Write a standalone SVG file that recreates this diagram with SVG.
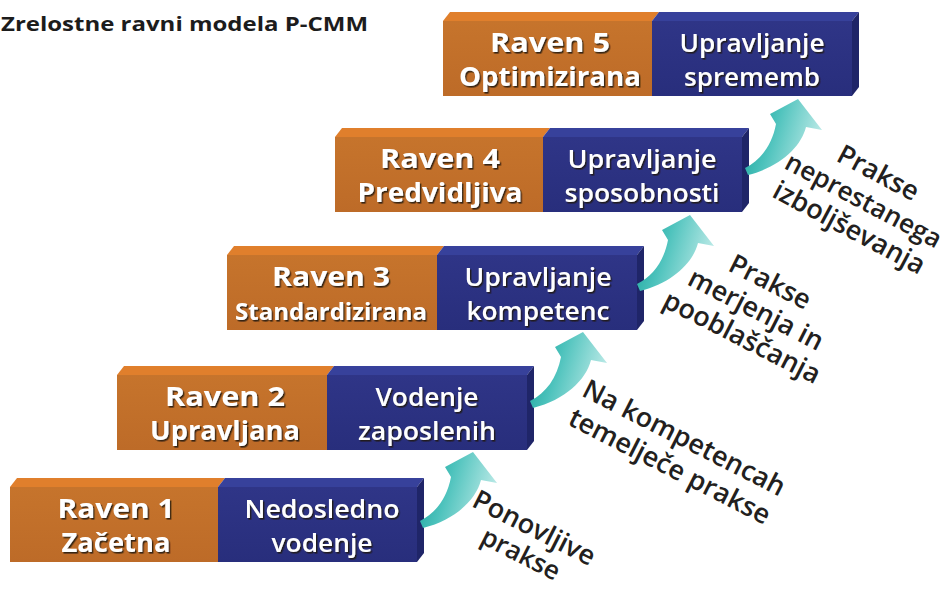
<svg xmlns="http://www.w3.org/2000/svg" width="949" height="591" viewBox="0 0 949 591">
<defs>
<linearGradient id="teal" x1="0" y1="0" x2="1" y2="0.3">
<stop offset="0" stop-color="#12a097"/>
<stop offset="0.45" stop-color="#4cc2bc"/>
<stop offset="1" stop-color="#b4e7e4"/>
</linearGradient>
<linearGradient id="orf" x1="0" y1="0" x2="0" y2="1">
<stop offset="0" stop-color="#c6742c"/>
<stop offset="1" stop-color="#bd6b28"/>
</linearGradient>
<linearGradient id="blf" x1="0" y1="0" x2="0" y2="1">
<stop offset="0" stop-color="#2f3587"/>
<stop offset="1" stop-color="#282e7c"/>
</linearGradient>
<filter id="sh" x="-10%" y="-30%" width="130%" height="170%">
<feDropShadow dx="1.4" dy="1.6" stdDeviation="0.6" flood-color="#1a1208" flood-opacity="0.85"/>
</filter>
</defs>
<style>
.ot{fill:#e07f2c}
.bt{fill:#37419b}
.sd{fill:#1f2568}
.of{fill:url(#orf)}
.bf{fill:url(#blf)}
.lo{font-family:"Open Sans","Noto Sans","Liberation Sans",sans-serif;font-weight:700;font-size:27px;fill:#ffffff;text-anchor:middle;filter:url(#sh)}
.lb{font-family:"Open Sans","Noto Sans","Liberation Sans",sans-serif;font-weight:600;font-size:26px;fill:#ffffff;text-anchor:middle;filter:url(#sh)}
.pr{font-family:"Open Sans","Noto Sans","Liberation Sans",sans-serif;font-weight:600;font-size:27px;fill:#231f20;text-anchor:middle}
.ti{font-family:"Open Sans","Noto Sans","Liberation Sans",sans-serif;font-weight:700;font-size:20px;fill:#1c1c1c}
.ar{fill:url(#teal)}
</style>
<rect width="949" height="591" fill="#ffffff"/>
<text class="ti" x="1" y="31" textLength="367" lengthAdjust="spacingAndGlyphs">Zrelostne ravni modela P-CMM</text>

<g id="level1">
<polygon class="ot" points="10,487 17,478 225,478 218,487"/>
<polygon class="bt" points="218,487 225,478 424,478 417,487"/>
<polygon class="sd" points="417,487 424,478 424,553 417,562"/>
<rect class="of" x="10" y="487" width="208" height="75"/>
<rect class="bf" x="218" y="487" width="199" height="75"/>
<text class="lo" x="116" y="518" textLength="117" lengthAdjust="spacingAndGlyphs">Raven 1</text>
<text class="lo" x="116" y="552" textLength="109" lengthAdjust="spacingAndGlyphs">Začetna</text>
<text class="lb" x="322" y="518" textLength="155" lengthAdjust="spacingAndGlyphs">Nedosledno</text>
<text class="lb" x="322" y="552" textLength="101" lengthAdjust="spacingAndGlyphs">vodenje</text>
</g>

<g id="level2">
<polygon class="ot" points="117,375 124,366 334,366 327,375"/>
<polygon class="bt" points="327,375 334,366 534,366 527,375"/>
<polygon class="sd" points="527,375 534,366 534,441 527,450"/>
<rect class="of" x="117" y="375" width="210" height="75"/>
<rect class="bf" x="327" y="375" width="200" height="75"/>
<text class="lo" x="225" y="406" textLength="120" lengthAdjust="spacingAndGlyphs">Raven 2</text>
<text class="lo" x="225" y="440" textLength="150" lengthAdjust="spacingAndGlyphs">Upravljana</text>
<text class="lb" x="427" y="406" textLength="103" lengthAdjust="spacingAndGlyphs">Vodenje</text>
<text class="lb" x="427" y="440" textLength="138" lengthAdjust="spacingAndGlyphs">zaposlenih</text>
</g>

<g id="level3">
<polygon class="ot" points="227,255 234,246 444,246 437,255"/>
<polygon class="bt" points="437,255 444,246 644,246 637,255"/>
<polygon class="sd" points="637,255 644,246 644,321 637,330"/>
<rect class="of" x="227" y="255" width="210" height="75"/>
<rect class="bf" x="437" y="255" width="200" height="75"/>
<text class="lo" x="331" y="286" textLength="118" lengthAdjust="spacingAndGlyphs">Raven 3</text>
<text class="lo" x="331" y="320" style="font-size:24px" textLength="192" lengthAdjust="spacingAndGlyphs">Standardizirana</text>
<text class="lb" x="538" y="286" textLength="147" lengthAdjust="spacingAndGlyphs">Upravljanje</text>
<text class="lb" x="538" y="320" textLength="143" lengthAdjust="spacingAndGlyphs">kompetenc</text>
</g>

<g id="level4">
<polygon class="ot" points="335,137 342,128 550,128 543,137"/>
<polygon class="bt" points="543,137 550,128 749,128 742,137"/>
<polygon class="sd" points="742,137 749,128 749,203 742,212"/>
<rect class="of" x="335" y="137" width="208" height="75"/>
<rect class="bf" x="543" y="137" width="199" height="75"/>
<text class="lo" x="440" y="168" textLength="120" lengthAdjust="spacingAndGlyphs">Raven 4</text>
<text class="lo" x="440" y="202" textLength="165" lengthAdjust="spacingAndGlyphs">Predvidljiva</text>
<text class="lb" x="642" y="168" textLength="149" lengthAdjust="spacingAndGlyphs">Upravljanje</text>
<text class="lb" x="642" y="202" textLength="155" lengthAdjust="spacingAndGlyphs">sposobnosti</text>
</g>

<g id="level5">
<polygon class="ot" points="443,21 450,12 659,12 652,21"/>
<polygon class="bt" points="652,21 659,12 859,12 852,21"/>
<polygon class="sd" points="852,21 859,12 859,87 852,96"/>
<rect class="of" x="443" y="21" width="209" height="75"/>
<rect class="bf" x="652" y="21" width="200" height="75"/>
<text class="lo" x="550" y="52" textLength="120" lengthAdjust="spacingAndGlyphs">Raven 5</text>
<text class="lo" x="550" y="86" textLength="182" lengthAdjust="spacingAndGlyphs">Optimizirana</text>
<text class="lb" x="752" y="52" textLength="145" lengthAdjust="spacingAndGlyphs">Upravljanje</text>
<text class="lb" x="752" y="86" textLength="136" lengthAdjust="spacingAndGlyphs">sprememb</text>
</g>

<g id="connectors">
<path id="arrow1" class="ar" d="M420 521 C436 513 447 498 451 477 L445 467 L473 452 L497 483 L481 480 C476 500 455 520 423 528 Z"/>
<path id="arrow2" class="ar" transform="translate(110,-120)" d="M420 521 C436 513 447 498 451 477 L445 467 L473 452 L497 483 L481 480 C476 500 455 520 423 528 Z"/>
<path id="arrow3" class="ar" transform="translate(217,-237)" d="M420 521 C436 513 447 498 451 477 L445 467 L473 452 L497 483 L481 480 C476 500 455 520 423 528 Z"/>
<path id="arrow4" class="ar" transform="translate(325,-353)" d="M420 521 C436 513 447 498 451 477 L445 467 L473 452 L497 483 L481 480 C476 500 455 520 423 528 Z"/>
</g>

<g id="practice1" transform="translate(530,536) rotate(27)">
<text class="pr" x="0" y="0">Ponovljive</text>
<text class="pr" x="0" y="29" style="font-size:26px">prakse</text>
</g>
<g id="practice2" transform="translate(680,446) rotate(27)">
<text class="pr" x="0" y="0">Na kompetencah</text>
<text class="pr" x="0" y="32">temelječe prakse</text>
</g>
<g id="practice3" transform="translate(766,290) rotate(27)">
<text class="pr" x="0" y="0">Prakse</text>
<text class="pr" x="0" y="31">merjenja in</text>
<text class="pr" x="0" y="62">pooblaščanja</text>
</g>
<g id="practice4" transform="translate(874,181) rotate(28)">
<text class="pr" x="0" y="0">Prakse</text>
<text class="pr" x="0" y="31" style="font-size:26px">neprestanega</text>
<text class="pr" x="0" y="62">izboljševanja</text>
</g>
</svg>
